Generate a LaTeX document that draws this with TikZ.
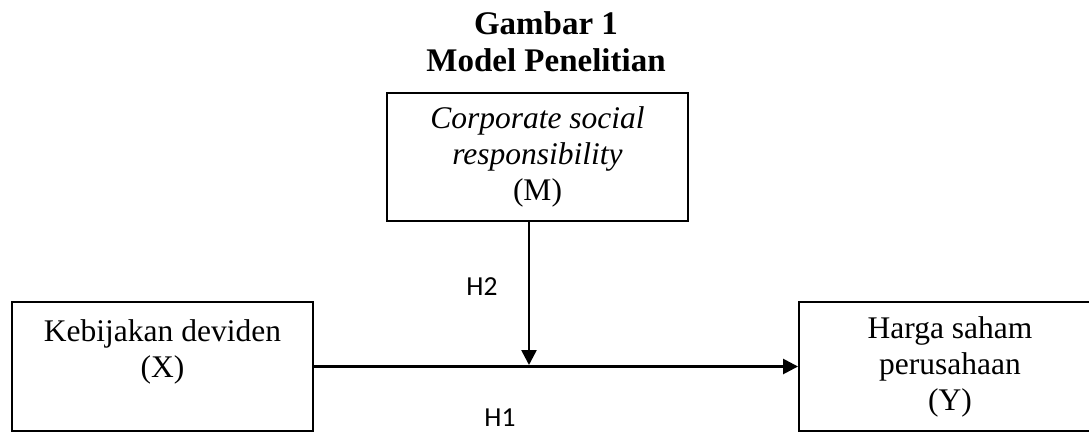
\documentclass[tikz,border=0pt]{standalone}
\usepackage{fontspec}
\setmainfont{Liberation Serif}
\newfontfamily\labelfont{Carlito}
\usetikzlibrary{arrows.meta}

\begin{document}
\begin{tikzpicture}[x=1bp,y=-1bp,
	kotak/.style={draw,line width=1.9bp,rectangle,align=center,inner sep=0pt,
		minimum width=301bp,minimum height=129bp,
		font={\fontsize{31.5bp}{36bp}\selectfont}},
	panah/.style={line width=2.6bp,-{Triangle[length=15bp,width=15bp]}},
	hlabel/.style={anchor=base,inner sep=0pt,font={\labelfont\fontsize{27.5bp}{30bp}\selectfont}}]
	\useasboundingbox (0,0) rectangle (1089,432);
	\clip (0,0) rectangle (1089,432);
	%title
	\node [align=center,inner sep=0pt,font={\fontsize{33bp}{37bp}\selectfont\bfseries}] (judul) at (546,42) {Gambar 1\\Model Penelitian};
	%boxes
	\node [kotak,minimum height=128bp] (M) at (537.5,157) {\textit{Corporate social}\\\textit{responsibility}\\(M)};
	\node [kotak] (X) at (162.5,366.5) {Kebijakan deviden\\(X)\\\mbox{}};
	\node [kotak,minimum width=302bp] (Y) at (950,366.5) {Harga saham\\perusahaan\\(Y)};
	%arrows
	\coordinate (temu) at (529,365);
	\draw [panah] (X.east) -- (Y.west);
	\draw [panah] (M.south -| temu) -- (temu);
	%labels
	\node [hlabel] (h2) at (482,295) {H2};
	\node [hlabel] (h1) at (500,426) {H1};
\end{tikzpicture}
\end{document}
